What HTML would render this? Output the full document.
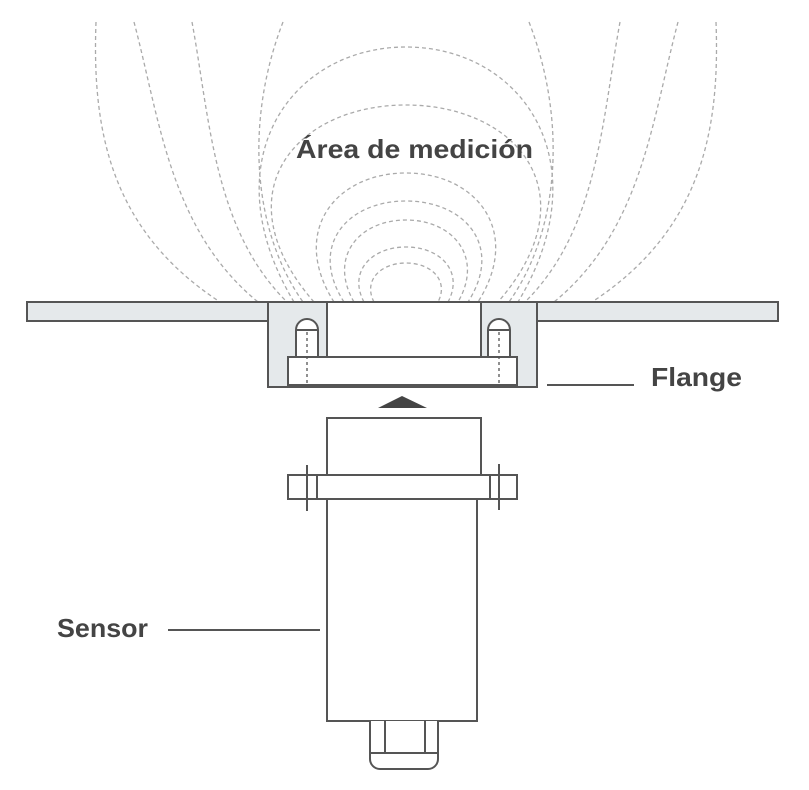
<!DOCTYPE html>
<html><head><meta charset="utf-8"><style>
html,body{margin:0;padding:0;background:#fff;}
svg{display:block;}
text{font-family:"Liberation Sans",sans-serif;font-weight:bold;fill:#444;}
</style></head><body>
<svg width="809" height="790" viewBox="0 0 809 790" xmlns="http://www.w3.org/2000/svg">
<g fill="none" stroke="#aaa" stroke-width="1.3" stroke-dasharray="4 3">
<path d="M294,302 C210,162 290,47 406,47 C522,47 602,162 518,302"/>
<path d="M314,302 C220,194 295,105 406,105 C517,105 592,194 498,302"/>
<path d="M334,302 C289,231 336,173 406,173 C476,173 523,231 478,302"/>
<path d="M344,302 C308,246 347,201 406,201 C465,201 504,246 468,302"/>
<path d="M354,302 C328,257 359,220 406,220 C453,220 484,257 458,302"/>
<path d="M364,302 C348,272 371,247 406,247 C441,247 464,272 448,302"/>
<path d="M374,302 C363,281 380,263 406,263 C432,263 449,281 438,302"/>
<path d="M96,22 C92,130 110,230 220,302"/>
<path d="M716,22 C720,130 702,230 592,302"/>
<path d="M134,22 C160,120 170,230 258,302"/>
<path d="M678,22 C652,120 642,230 554,302"/>
<path d="M192,22 C210,120 214,230 287,302"/>
<path d="M620,22 C602,120 598,230 525,302"/>
<path d="M283,22 C245,120 252,230 303,302"/>
<path d="M529,22 C567,120 560,230 509,302"/>
</g>
<text x="296" y="158" font-size="26" textLength="237" lengthAdjust="spacingAndGlyphs">Área de medición</text>
<g stroke="#555" stroke-width="2">
<rect x="27" y="302" width="241" height="19" fill="#e5e9eb"/>
<rect x="537" y="302" width="241" height="19" fill="#e5e9eb"/>
<rect x="268" y="302" width="269" height="85" fill="#e5e9eb"/>
<rect x="327" y="302" width="154" height="55" fill="#fff"/>
<rect x="288" y="357" width="229" height="28" fill="#fff"/>
<path d="M296,357 V330 A11,11 0 0 1 318,330 V357 Z" fill="#fff"/>
<path d="M488,357 V330 A11,11 0 0 1 510,330 V357 Z" fill="#fff"/>
<line x1="296" y1="330" x2="318" y2="330"/>
<line x1="488" y1="330" x2="510" y2="330"/>
</g>
<g stroke="#555" stroke-width="1.3" stroke-dasharray="3 3">
<line x1="307" y1="332" x2="307" y2="385"/>
<line x1="499" y1="332" x2="499" y2="385"/>
</g>
<polygon points="402,396 378,408 427,408" fill="#444"/>
<g stroke="#555" stroke-width="2" fill="#fff">
<rect x="327" y="418" width="154" height="57"/>
<rect x="288" y="475" width="229" height="24"/>
<rect x="327" y="499" width="150" height="222"/>
<line x1="317" y1="475" x2="317" y2="499"/>
<line x1="490" y1="475" x2="490" y2="499"/>
<line x1="307" y1="465" x2="307" y2="511"/>
<line x1="499" y1="464" x2="499" y2="510"/>
<path d="M370,721 V759 A10,10 0 0 0 380,769 H428 A10,10 0 0 0 438,759 V721"/>
<line x1="370" y1="753" x2="438" y2="753"/>
<line x1="385" y1="721" x2="385" y2="753"/>
<line x1="425" y1="721" x2="425" y2="753"/>
<line x1="547" y1="385" x2="634" y2="385"/>
<line x1="168" y1="630" x2="320" y2="630"/>
</g>
<text x="651" y="386" font-size="26" textLength="91" lengthAdjust="spacingAndGlyphs">Flange</text>
<text x="57" y="637" font-size="26" textLength="91" lengthAdjust="spacingAndGlyphs">Sensor</text>
</svg>
</body></html>
